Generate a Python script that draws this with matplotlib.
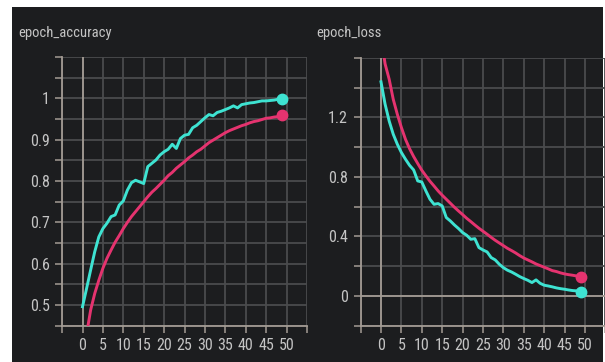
import matplotlib
matplotlib.use("Agg")
import matplotlib.pyplot as plt
from matplotlib import font_manager
from matplotlib.patches import Rectangle
import numpy as np

# ---------------- data ----------------
epochs = list(range(50))

acc_cyan = [0.496, 0.540, 0.585, 0.629, 0.665, 0.685, 0.698, 0.714, 0.718, 0.742,
            0.752, 0.778, 0.796, 0.802, 0.798, 0.794, 0.835, 0.843, 0.851, 0.863,
            0.871, 0.877, 0.889, 0.879, 0.903, 0.911, 0.913, 0.929, 0.935, 0.944,
            0.953, 0.961, 0.958, 0.966, 0.969, 0.973, 0.977, 0.982, 0.977, 0.985,
            0.987, 0.989, 0.990, 0.992, 0.994, 0.994, 0.995, 0.996, 0.998, 0.998]

acc_magenta = [0.36, 0.43, 0.488, 0.528, 0.560, 0.589, 0.613, 0.633, 0.652, 0.668,
               0.685, 0.700, 0.714, 0.726, 0.738, 0.750, 0.762, 0.773, 0.782, 0.792,
               0.802, 0.813, 0.821, 0.831, 0.839, 0.847, 0.856, 0.863, 0.871, 0.877,
               0.885, 0.893, 0.899, 0.905, 0.911, 0.917, 0.922, 0.926, 0.930, 0.934,
               0.937, 0.941, 0.944, 0.946, 0.949, 0.952, 0.953, 0.955, 0.956, 0.959]

loss_cyan = [1.439, 1.289, 1.176, 1.087, 1.020, 0.964, 0.919, 0.878, 0.847, 0.773,
             0.766, 0.706, 0.650, 0.616, 0.621, 0.605, 0.527, 0.504, 0.477, 0.453,
             0.426, 0.408, 0.381, 0.385, 0.325, 0.309, 0.296, 0.258, 0.242, 0.213,
             0.190, 0.173, 0.161, 0.146, 0.130, 0.117, 0.105, 0.090, 0.108, 0.085,
             0.072, 0.067, 0.061, 0.054, 0.049, 0.045, 0.040, 0.036, 0.034, 0.029]

loss_magenta = [1.75, 1.56, 1.457, 1.322, 1.221, 1.132, 1.053, 0.990, 0.937, 0.890,
                0.845, 0.807, 0.771, 0.739, 0.706, 0.677, 0.650, 0.623, 0.596, 0.571,
                0.547, 0.522, 0.500, 0.477, 0.455, 0.435, 0.415, 0.394, 0.374, 0.356,
                0.338, 0.320, 0.305, 0.289, 0.271, 0.255, 0.242, 0.229, 0.215, 0.204,
                0.193, 0.182, 0.170, 0.164, 0.155, 0.148, 0.143, 0.139, 0.134, 0.130]

x_ticks = list(range(-5, 56, 5))
x_labels = ["" if (t < 0 or t > 50) else str(t) for t in x_ticks]

acc_ticks = [round(0.45 + 0.05 * i, 2) for i in range(14)]
acc_labels = ["0.5", "0.6", "0.7", "0.8", "0.9", "1"]

loss_ticks = [round(-0.2 + 0.2 * i, 1) for i in range(10)]
loss_labels = ["0", "0.4", "0.8", "1.2"]

titles = ["epoch_accuracy", "epoch_loss"]

# ---------------- style ----------------
names = {f.name for f in font_manager.fontManager.ttflist}
for cand in ["Liberation Sans Narrow", "Roboto Condensed", "DejaVu Sans"]:
    if cand in names:
        FONT = cand
        break
else:
    FONT = "DejaVu Sans"
plt.rcParams["font.family"] = [FONT, "DejaVu Sans"]

BG = "#1c1d1f"
GRID = "#4a4b4d"
AXIS = "#a39b94"
TXT = "#c4c4c4"
CYAN = "#3ee3d2"
MAG = "#e5336f"

W, H = 605, 362
fig = plt.figure(figsize=(W / 100, H / 100), dpi=100, facecolor="white")
fig.patches.append(Rectangle((12 / W, 0), (603 - 12) / W, (H - 7) / H,
                             transform=fig.transFigure, facecolor=BG,
                             edgecolor="none", zorder=-10))


def px_axes(x0, x1, ytop, ybot):
    return fig.add_axes([x0 / W, (H - ybot) / H, (x1 - x0) / W, (ybot - ytop) / H])


def style(ax, yticks, ylabels_vals, ylabels, ylim):
    ax.set_facecolor(BG)
    ax.patch.set_alpha(0)
    ax.set_xlim(-5, 55)
    ax.set_ylim(*ylim)
    ax.set_xticks(x_ticks)
    ax.set_xticklabels(x_labels)
    ax.set_yticks(yticks)
    lab = []
    for t in yticks:
        s = ""
        for v, l in zip(ylabels_vals, ylabels):
            if abs(t - v) < 1e-6:
                s = l
        lab.append(s)
    ax.set_yticklabels(lab)
    ax.grid(True, color=GRID, linewidth=1.3, zorder=0)
    ax.set_axisbelow(True)
    for s in ["top", "right"]:
        ax.spines[s].set_visible(False)
    for s in ["left", "bottom"]:
        ax.spines[s].set_color(AXIS)
        ax.spines[s].set_linewidth(1.3)
    ax.tick_params(colors=AXIS, labelcolor=TXT, length=5, width=1.1,
                   labelsize=11.5, pad=4)
    ax.axvline(0, color=AXIS, linewidth=1.3, zorder=1)


LW = 2.1
MS = 7.5

# left panel
ax1 = px_axes(62.1, 306.9, 57.1, 325.7)
style(ax1, acc_ticks, [0.5, 0.6, 0.7, 0.8, 0.9, 1.0], acc_labels, (0.45, 1.1))
ax1.plot(epochs, acc_magenta, color=MAG, linewidth=LW, zorder=3)
ax1.plot(epochs, acc_cyan, color=CYAN, linewidth=LW, zorder=4)
ax1.plot(epochs[-1], acc_magenta[-1], "o", color=MAG, markersize=MS, zorder=5)
ax1.plot(epochs[-1], acc_cyan[-1], "o", color=CYAN, markersize=MS, zorder=6)

# right panel
ax2 = px_axes(360.6, 605.4, 57.9, 325.7)
style(ax2, loss_ticks, [0.0, 0.4, 0.8, 1.2], loss_labels, (-0.2, 1.6))
ax2.axhline(0, color=AXIS, linewidth=1.3, zorder=1)
ax2.plot(epochs, loss_magenta, color=MAG, linewidth=LW, zorder=3)
ax2.plot(epochs, loss_cyan, color=CYAN, linewidth=LW, zorder=4)
ax2.plot(epochs[-1], loss_magenta[-1], "o", color=MAG, markersize=MS, zorder=5)
ax2.plot(epochs[-1], loss_cyan[-1], "o", color=CYAN, markersize=MS, zorder=6)

fig.text(18 / W, (H - 33) / H, titles[0], color=TXT, fontsize=10.5,
         ha="left", va="center")
fig.text(316 / W, (H - 33) / H, titles[1], color=TXT, fontsize=10.5,
         ha="left", va="center")

fig.savefig("out.png", dpi=100, facecolor="white")
